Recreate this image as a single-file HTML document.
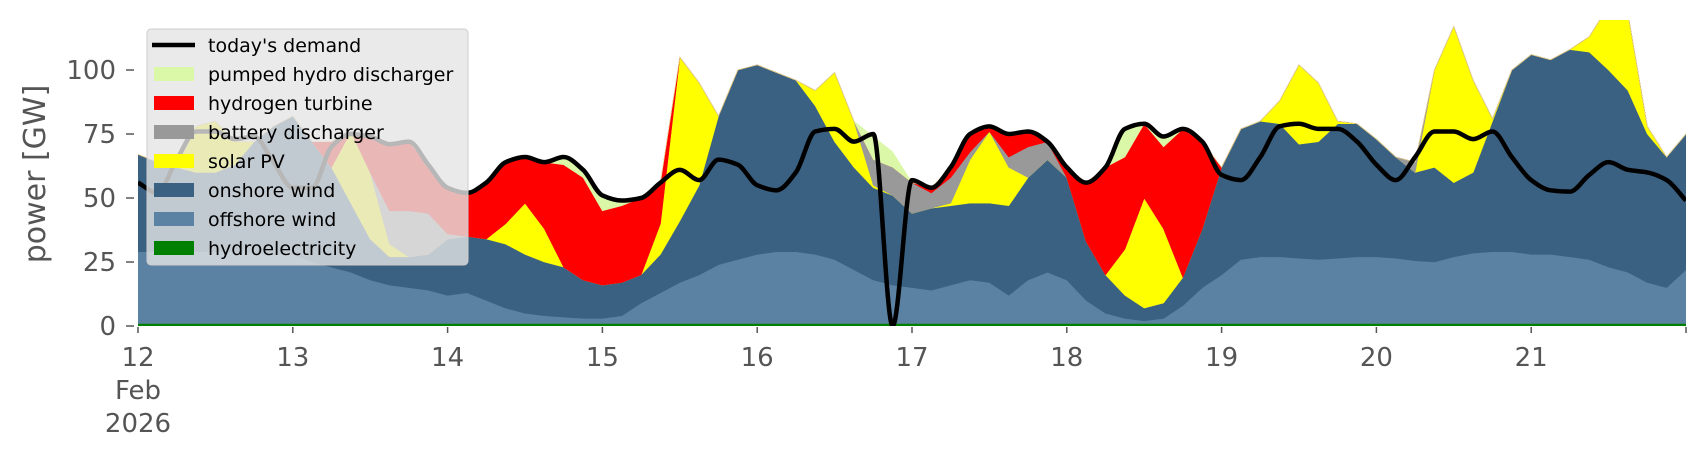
<!DOCTYPE html>
<html><head><meta charset="utf-8"><style>
html,body{margin:0;padding:0;background:#fff;}
svg{display:block;font-family:"DejaVu Sans","Liberation Sans",sans-serif;}
</style></head><body>
<svg id="chart" width="1706" height="460" viewBox="0 0 1706 460" xmlns="http://www.w3.org/2000/svg">
<defs><clipPath id="plotclip"><rect x="138" y="20" width="1548" height="306"/></clipPath></defs>
<g id="areas" clip-path="url(#plotclip)"></g>
<g id="demand" clip-path="url(#plotclip)"></g>
<g id="xaxis"></g>
<g id="yaxis"></g>
<text x="0" y="0" transform="translate(45,174) rotate(-90)" text-anchor="middle" font-size="30" fill="#555">power [GW]</text>
<g id="legend"></g>
</svg>
<script>
const hydro=[1,1,1,1,1,1,1,1,1,1,1,1,1,1,1,1,1,1,1,1,1,1,1,1,1,1,1,1,1,1,1,1,1,1,1,1,1,1,1,1,1,1,1,1,1,1,1,1,1,1,1,1,1,1,1,1,1,1,1,1,1,1,1,1,1,1,1,1,1,1,1,1,1,1,1,1,1,1,1,1,1];
const offshore=[28,28,28,28,28,28,27.5,27,27,24,22,20,17,15,14,13,11,12,9,6,4,3,2.5,2,2,3,8,12,16,19,23,25,27,28,28,27,25,21,17,15,14,13,15,17,16,11,17,20,17,9,4,2,1,2,7,14,19,25,26,26,25.5,25,25.5,26,26,25.5,24.5,24,26,27.5,28,28,27,27,26,25,22,20,16,14,21];
const onshore=[38,35,33,31,31,34,43.5,50,54,47,39,27,16,11,12,14,22,22,24,25,23,21,19.5,15,13,13,11,15,24,35,58,74,74,70,67,58,46,40,36,35,29,32,31,30,31,35,40,44,40,23,15,9,5,6,11,23,42,51,53,52,44.5,46,52.5,52,46,39.5,34.5,37,29,31.5,51,71,78,76,81,81,77,71,58,51,53];
const solar=[0,0,0,18,20,9,0,0,0,0,0,28,26,5,0,0,0,0,0,8,20,13,0,0,0,0,0,12,64,40,0,0,0,0,0,6,27,18,1,0,0,0,1,17,28,15,0,0,0,0,0,18,43,29,0,0,0,0,0,9,31,23,1,0,0,0,0,38,61,36,1,0,0,0,0,6,25,30,3,0,0];
const battery=[0,0,0,0,0,0,0,0,0,0,0,0,0,13,18,16,2,0,0,0,0,0,0,0,0,0,0,0,0,0,0,0,0,0,0,0,0,0,10,11,12,6,10,3,0,4,12,7,0,0,0,0,0,0,0,0,0,0,0,0,0,0,0,0,0,0,4,0,0,0,0,0,0,0,0,0,0,0,0,0,0];
const hydrogen=[0,0,0,0,0,0,0,0,0,0,10,0,14,26,27,19,18,17,22,24,18,26,40,40,29,30,30,16,0,0,0,0,0,0,0,0,0,0,0,0,0,2,4,7,2,9,6,0,4,23,42,36,29,32,58,34,0,0,0,0,0,0,0,0,0,0,0,0,0,0,0,0,0,0,0,0,0,0,0,0,0];
const pumped=[0,0,0,0,0,0,0,0,0,0,0,0,0,0,0,0,0,0,0,0,0,0,3,3,6,2,0,0,0,0,0,0,0,0,0,0,0,0,9,6,0,0,0,0,0,0,0,0,0,0,0,11,0,4,0,0,0,0,0,0,0,0,0,0,0,0,0,0,0,0,0,0,0,0,0,0,0,0,0,0,0];
const demand=[56,52,65,76,76,73,74,64,54,54,70,75,74,71,72,63,54,52,56,64,66,64,66,61,51,49,50,56,61,57,65,63,55,53,60,76,77,72,75,0,57,54,62,75,78,75,76,72,62,56,62,77,79,74,77,72,59,57,66,78,79,77,77,72,63,57,66,76,76,73,76,66,57,53,52.5,59,64,61,60,57,49];
const xTickLabels=["12","13","14","15","16","17","18","19","20","21",""];
const yTicks=[0,25,50,75,100];
const stepsPerDay=8;

const NS="http://www.w3.org/2000/svg";
const X0=138, DAYW=154.8, Y0=326, KY=2.56;
function xs(i){return X0+(i/stepsPerDay)*DAYW;}
function ys(v){return Y0-v*KY;}
function mk(tag,attrs,parent){const e=document.createElementNS(NS,tag);for(const k in attrs)e.setAttribute(k,attrs[k]);parent.appendChild(e);return e;}

const layers=[
 {arr:hydro,color:"#008000",name:"hydroelectricity-area"},
 {arr:offshore,color:"#5b82a3",name:"offshore-wind-area"},
 {arr:onshore,color:"#3b6182",name:"onshore-wind-area"},
 {arr:solar,color:"#ffff00",name:"solar-pv-area"},
 {arr:battery,color:"#999999",name:"battery-discharger-area"},
 {arr:hydrogen,color:"#ff0000",name:"hydrogen-turbine-area"},
 {arr:pumped,color:"#dbf7a8",name:"pumped-hydro-area"}
];
const areas=document.getElementById('areas');
let base=demand.map(()=>0);
layers.forEach(L=>{
  const top=base.map((b,i)=>b+L.arr[i]);
  let d="M"+xs(0)+","+ys(top[0]);
  for(let i=1;i<top.length;i++) d+="L"+xs(i).toFixed(2)+","+ys(top[i]).toFixed(2);
  for(let i=base.length-1;i>=0;i--) d+="L"+xs(i).toFixed(2)+","+ys(base[i]).toFixed(2);
  d+="Z";
  const p=mk('path',{d:d,fill:L.color,stroke:L.color,'stroke-width':0.6},areas);
  
  
  base=top;
});
// monotone cubic demand line (no overshoot)
const n=demand.length, h=DAYW/stepsPerDay;
const px=demand.map((v,i)=>xs(i)), py=demand.map(v=>ys(v));
const dk=[];for(let i=0;i<n-1;i++)dk.push((py[i+1]-py[i])/h);
const m=new Array(n);
m[0]=dk[0];m[n-1]=dk[n-2];
for(let i=1;i<n-1;i++){ if(dk[i-1]*dk[i]<=0) m[i]=0; else { m[i]=2/(1/dk[i-1]+1/dk[i]); } }
let dl="M"+px[0].toFixed(2)+","+py[0].toFixed(2);
for(let i=0;i<n-1;i++){
  dl+="C"+(px[i]+h/3).toFixed(2)+","+(py[i]+m[i]*h/3).toFixed(2)+" "+(px[i+1]-h/3).toFixed(2)+","+(py[i+1]-m[i+1]*h/3).toFixed(2)+" "+px[i+1].toFixed(2)+","+py[i+1].toFixed(2);
}
const line=mk('path',{d:dl,fill:"none",stroke:"#000","stroke-width":4.5,"stroke-linejoin":"round"},document.getElementById('demand'));



const xa=document.getElementById('xaxis');
xTickLabels.forEach((lab,k)=>{
  const x=X0+k*DAYW;
  const t=mk('line',{x1:x,y1:Y0+1,x2:x,y2:Y0+7,stroke:"#555","stroke-width":1.5},xa);
  
  
  if(lab){
    const tx=mk('text',{x:x,y:366,'text-anchor':'middle','font-size':26,fill:'#555'},xa);
    tx.textContent=lab;
    
    
  }
});
[["Feb",399],["2026",432]].forEach(([s,y])=>{
  const tx=mk('text',{x:X0,y:y,'text-anchor':'middle','font-size':26,fill:'#555'},xa);
  tx.textContent=s;
  
  
});
const ya=document.getElementById('yaxis');
yTicks.forEach(v=>{
  const y=ys(v);
  const t=mk('line',{x1:126,y1:y,x2:134,y2:y,stroke:"#555","stroke-width":1.5},ya);
  
  
  const tx=mk('text',{x:116,y:y+9,'text-anchor':'end','font-size':26,fill:'#555'},ya);
  tx.textContent=String(v);
  
  
});

const lg=document.getElementById('legend');
const box=mk('rect',{x:147,y:29,width:321,height:236,rx:4,fill:"rgba(229,229,229,0.8)",stroke:"#cccccc","stroke-width":1},lg);


const entries=[
 ["today's demand","line","#000"],
 ["pumped hydro discharger","patch","#dbf7a8"],
 ["hydrogen turbine","patch","#ff0000"],
 ["battery discharger","patch","#999999"],
 ["solar PV","patch","#ffff00"],
 ["onshore wind","patch","#3b6182"],
 ["offshore wind","patch","#5b82a3"],
 ["hydroelectricity","patch","#008000"]
];
entries.forEach((e,k)=>{
  const cy=45+k*29;
  const g=mk('g',{},lg);
  
  
  if(e[1]==="line") mk('line',{x1:152,y1:cy,x2:195,y2:cy,stroke:e[2],"stroke-width":4.5},g);
  else mk('rect',{x:154,y:cy-7,width:40,height:14,fill:e[2]},g);
  const t=mk('text',{x:208,y:cy+7,'font-size':19,fill:'#000'},g);
  t.textContent=e[0];
});
</script>
</body></html>
